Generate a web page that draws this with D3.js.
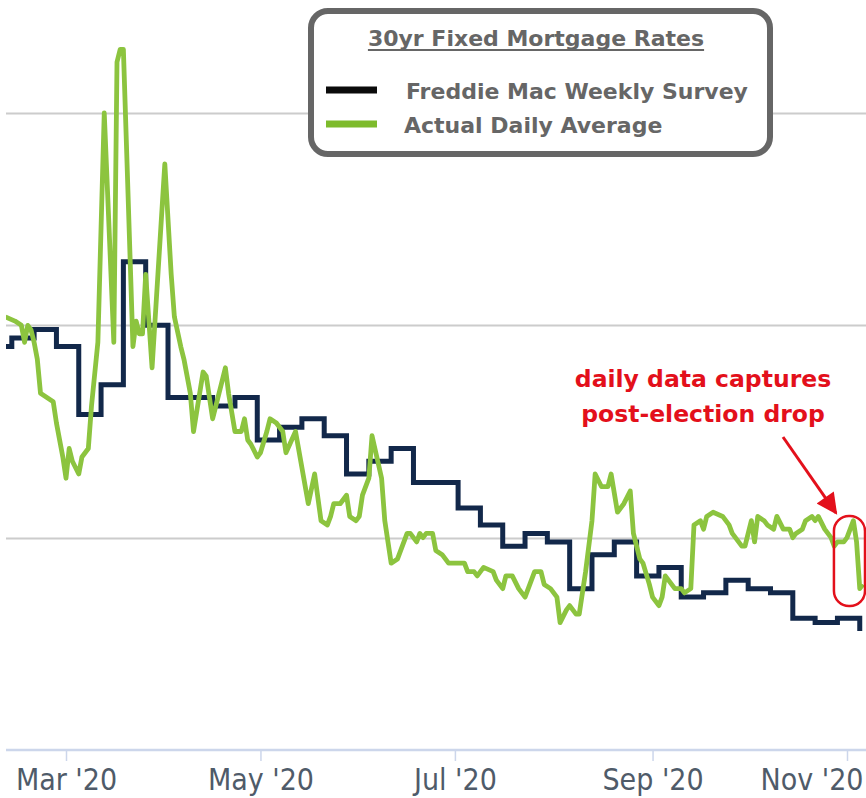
<!DOCTYPE html>
<html>
<head>
<meta charset="utf-8">
<script src="https://cdn.jsdelivr.net/npm/d3@7/dist/d3.min.js"></script>
<style>
  body { margin: 0; background: #fff; }
</style>
</head>
<body>
<script>
// Freddie Mac weekly survey (30yr fixed)
var weeklyDates = ["2020-02-06","2020-02-13","2020-02-20","2020-02-27","2020-03-05","2020-03-12",
  "2020-03-19","2020-03-26","2020-04-02","2020-04-09","2020-04-16","2020-04-23","2020-04-30",
  "2020-05-07","2020-05-14","2020-05-21","2020-05-28","2020-06-04","2020-06-11","2020-06-18",
  "2020-06-25","2020-07-02","2020-07-09","2020-07-16","2020-07-23","2020-07-30","2020-08-06",
  "2020-08-13","2020-08-20","2020-08-27","2020-09-03","2020-09-10","2020-09-17","2020-09-24",
  "2020-10-01","2020-10-08","2020-10-15","2020-10-22","2020-10-29","2020-11-05"];
var weeklyRates = [3.45,3.47,3.49,3.45,3.29,3.36,3.65,3.50,3.33,3.33,3.31,3.33,3.23,
  3.26,3.28,3.24,3.15,3.18,3.21,3.13,3.13,3.07,3.03,2.98,3.01,2.99,2.88,
  2.96,2.99,2.91,2.93,2.86,2.87,2.90,2.88,2.87,2.81,2.80,2.81,2.78];

// actual daily average
var dailyDates = ["2020-02-11","2020-02-14","2020-02-16","2020-02-17","2020-02-18","2020-02-19",
  "2020-02-20","2020-02-21","2020-02-22","2020-02-24","2020-02-26","2020-02-27","2020-02-29",
  "2020-03-01","2020-03-02","2020-03-03","2020-03-05","2020-03-06","2020-03-08","2020-03-09",
  "2020-03-11","2020-03-13","2020-03-16","2020-03-17","2020-03-18","2020-03-19","2020-03-22",
  "2020-03-23","2020-03-24","2020-03-25","2020-03-26","2020-03-28","2020-04-01","2020-04-03",
  "2020-04-04","2020-04-06","2020-04-07","2020-04-09","2020-04-10","2020-04-13","2020-04-14",
  "2020-04-16","2020-04-20","2020-04-21","2020-04-23","2020-04-25","2020-04-26","2020-04-27",
  "2020-04-28","2020-04-30","2020-05-01","2020-05-03","2020-05-04","2020-05-06","2020-05-08",
  "2020-05-09","2020-05-12","2020-05-16","2020-05-18","2020-05-20","2020-05-22","2020-05-23",
  "2020-05-24","2020-05-26","2020-05-28","2020-05-29","2020-05-31","2020-06-01","2020-06-02",
  "2020-06-04","2020-06-05","2020-06-08","2020-06-09","2020-06-11","2020-06-13","2020-06-14",
  "2020-06-16","2020-06-17","2020-06-19","2020-06-20","2020-06-21","2020-06-22","2020-06-24",
  "2020-06-25","2020-06-27","2020-06-29","2020-06-30","2020-07-04","2020-07-05","2020-07-07",
  "2020-07-08","2020-07-10","2020-07-13","2020-07-14","2020-07-16","2020-07-17","2020-07-19",
  "2020-07-21","2020-07-23","2020-07-25","2020-07-26","2020-07-28","2020-07-29","2020-07-31",
  "2020-08-02","2020-08-03","2020-08-05","2020-08-06","2020-08-08","2020-08-09","2020-08-11",
  "2020-08-13","2020-08-14","2020-08-16","2020-08-18","2020-08-19","2020-08-21","2020-08-22",
  "2020-08-23","2020-08-25","2020-08-26","2020-08-28","2020-08-29","2020-08-31","2020-09-01",
  "2020-09-03","2020-09-04","2020-09-05","2020-09-07","2020-09-08","2020-09-10","2020-09-11",
  "2020-09-13","2020-09-14","2020-09-16","2020-09-17","2020-09-18","2020-09-20","2020-09-23",
  "2020-09-25","2020-09-26","2020-09-29","2020-09-30","2020-10-02","2020-10-03","2020-10-04",
  "2020-10-06","2020-10-07","2020-10-09","2020-10-10","2020-10-12","2020-10-14","2020-10-15",
  "2020-10-16","2020-10-18","2020-10-19","2020-10-21","2020-10-22","2020-10-23","2020-10-25",
  "2020-10-27","2020-10-28","2020-10-29","2020-10-31","2020-11-01","2020-11-03","2020-11-04",
  "2020-11-05","2020-11-06"];
var dailyRates = [3.52,3.51,3.50,3.46,3.50,3.49,
  3.46,3.42,3.34,3.33,3.32,3.27,3.19,
  3.14,3.21,3.18,3.15,3.19,3.21,3.31,
  3.46,4.00,3.46,4.12,4.15,4.15,3.45,
  3.51,3.48,3.48,3.62,3.40,3.88,3.62,
  3.52,3.45,3.42,3.34,3.25,3.39,3.38,
  3.28,3.40,3.34,3.25,3.25,3.28,3.23,
  3.22,3.19,3.20,3.25,3.28,3.27,3.25,
  3.20,3.25,3.08,3.15,3.04,3.03,3.05,
  3.08,3.08,3.10,3.05,3.04,3.05,3.10,
  3.14,3.24,3.14,3.04,2.94,2.95,2.97,
  3.01,3.01,2.99,3.01,3.00,3.01,3.01,
  2.97,2.96,2.94,2.94,2.94,2.92,2.92,
  2.91,2.93,2.92,2.90,2.88,2.91,2.91,
  2.88,2.86,2.90,2.92,2.92,2.89,2.88,
  2.86,2.80,2.83,2.84,2.82,2.82,2.92,
  3.04,3.15,3.12,3.12,3.15,3.06,3.07,
  3.08,3.11,3.01,2.95,2.94,2.89,2.86,
  2.84,2.86,2.91,2.89,2.88,2.88,2.87,
  2.88,3.03,3.04,3.02,3.05,3.06,3.05,
  3.03,3.01,2.98,2.98,3.04,2.99,3.05,
  3.04,3.03,3.02,3.05,3.02,3.02,3.00,
  3.01,3.02,3.04,3.05,3.04,3.05,3.02,
  3.00,2.98,2.99,2.99,3.00,3.04,2.99,
  2.88,2.89];

var gridRates = [4.0, 3.5, 3.0];
var tickDates = ["2020-03-01","2020-05-01","2020-07-01","2020-09-01","2020-11-01"];
var legendTitle = "30yr Fixed Mortgage Rates";
var legendLabels = ["Freddie Mac Weekly Survey", "Actual Daily Average"];
var noteLines = ["daily data captures", "post-election drop"];

var width = 866, height = 798,
    plotLeft = 6, plotRight = 866, plotBottom = 750;

var navy = "#12284a", green = "#8cc43f", red = "#e3101b", gray = "#666666";

var parse = d3.timeParse("%Y-%m-%d");

var x = d3.scaleTime()
    .domain([parse("2020-03-01"), parse("2020-11-01")])
    .range([66, 847]);
var y = d3.scaleLinear()
    .domain([2.5, 4.0])
    .range([plotBottom, 113]);

var weekly = weeklyDates.map(function(d, i) { return {date: parse(d), rate: weeklyRates[i]}; });
var daily = dailyDates.map(function(d, i) { return {date: parse(d), rate: dailyRates[i]}; });

var svg = d3.select("body").append("svg")
    .attr("width", width)
    .attr("height", height)
    .style("font-family", "'DejaVu Sans', Verdana, sans-serif");

svg.append("defs").append("clipPath").attr("id", "plot")
  .append("rect")
    .attr("x", plotLeft).attr("y", 0)
    .attr("width", plotRight - plotLeft).attr("height", plotBottom);

// horizontal grid lines
svg.append("g").selectAll("line")
    .data(gridRates)
  .enter().append("line")
    .attr("x1", plotLeft).attr("x2", plotRight)
    .attr("y1", function(d) { return Math.round(y(d)) + 0.5; })
    .attr("y2", function(d) { return Math.round(y(d)) + 0.5; })
    .attr("stroke", "#cccccc")
    .attr("stroke-width", 2);

// x axis
var axis = d3.axisBottom(x)
    .tickValues(tickDates.map(parse))
    .tickFormat(d3.timeFormat("%b '%y"))
    .tickSize(11)
    .tickSizeOuter(0);

var gx = svg.append("g")
    .attr("transform", "translate(0," + plotBottom + ")")
    .call(axis);
gx.select(".domain").remove();
gx.selectAll(".tick line").attr("stroke", "#ccd6eb").attr("stroke-width", 1.5);
gx.append("line")
    .attr("x1", plotLeft).attr("x2", plotRight)
    .attr("stroke", "#ccd6eb").attr("stroke-width", 2.5);
gx.selectAll(".tick text")
    .attr("y", 40).attr("dy", 0)
    .attr("fill", "#4f5b69")
    .attr("font-size", 30)
    .style("font-family", "'Liberation Sans Narrow', 'DejaVu Sans Condensed', 'Roboto Condensed', sans-serif");
// keep the last label inside the picture
gx.selectAll(".tick text").each(function() {
  var t = d3.select(this), w = this.getComputedTextLength();
  var cx = x(this.__data__);
  if (cx + w / 2 > width - 3) t.attr("x", (width - 3) - w / 2 - cx);
});

// series
var lines = svg.append("g").attr("clip-path", "url(#plot)");

var stepLine = d3.line()
    .x(function(d) { return x(d.date); })
    .y(function(d) { return y(d.rate); })
    .curve(d3.curveStepAfter);

var dailyLine = d3.line()
    .x(function(d) { return x(d.date); })
    .y(function(d) { return y(d.rate); });

lines.append("path")
    .datum(weekly)
    .attr("d", stepLine)
    .attr("fill", "none")
    .attr("stroke", navy)
    .attr("stroke-width", 5);

lines.append("path")
    .datum(daily)
    .attr("d", dailyLine)
    .attr("fill", "none")
    .attr("stroke", green)
    .attr("stroke-width", 4.8)
    .attr("stroke-linejoin", "round");

// legend box
var legend = svg.append("g");
legend.append("rect")
    .attr("x", 311).attr("y", 11)
    .attr("width", 459).attr("height", 143)
    .attr("rx", 17)
    .attr("fill", "#fff")
    .attr("stroke", gray)
    .attr("stroke-width", 6);

var title = legend.append("text")
    .attr("x", 536).attr("y", 46)
    .attr("text-anchor", "middle")
    .attr("font-weight", "bold")
    .attr("fill", gray)
    .attr("font-size", 22)
    .text(legendTitle);
var tw = title.node().getComputedTextLength();
legend.append("line")
    .attr("x1", 536 - tw / 2).attr("x2", 536 + tw / 2)
    .attr("y1", 50).attr("y2", 50)
    .attr("stroke", gray).attr("stroke-width", 2);

var items = legend.selectAll(".item")
    .data(legendLabels)
  .enter().append("g")
    .attr("class", "item")
    .attr("transform", function(d, i) { return "translate(0," + (i * 34) + ")"; });
items.append("line")
    .attr("x1", 326).attr("x2", 377)
    .attr("y1", 90).attr("y2", 90)
    .attr("stroke", function(d, i) { return i == 0 ? "#0b0b0b" : "#7dbb2c"; })
    .attr("stroke-width", 7);
items.append("text")
    .attr("x", function(d, i) { return i == 0 ? 406 : 404; })
    .attr("y", 99)
    .attr("font-weight", "bold")
    .attr("font-size", 22)
    .attr("fill", gray)
    .text(function(d) { return d; });

// annotation
var note = svg.append("g");
note.selectAll("text")
    .data(noteLines)
  .enter().append("text")
    .attr("x", 703)
    .attr("y", function(d, i) { return 387 + i * 35; })
    .attr("text-anchor", "middle")
    .attr("font-weight", "bold")
    .attr("font-size", 23.5)
    .attr("fill", red)
    .text(function(d) { return d; });

svg.select("defs").append("marker")
    .attr("id", "head")
    .attr("viewBox", "0 0 10 10")
    .attr("refX", 9).attr("refY", 5)
    .attr("markerWidth", 8).attr("markerHeight", 7)
    .attr("markerUnits", "strokeWidth")
    .attr("orient", "auto")
  .append("path")
    .attr("d", "M0,0L10,5L0,10z")
    .attr("fill", red);

note.append("line")
    .attr("x1", 783).attr("y1", 437)
    .attr("x2", 836).attr("y2", 513)
    .attr("stroke", red)
    .attr("stroke-width", 3)
    .attr("marker-end", "url(#head)");

// circle the post-election drop
var last = daily.slice(-7);
var px0 = x(last[0].date) - 3.5, px1 = 865;
note.append("rect")
    .attr("x", px0).attr("y", 516)
    .attr("width", px1 - px0).attr("height", 90)
    .attr("rx", 15)
    .attr("fill", "none")
    .attr("stroke", red)
    .attr("stroke-width", 2.5);
</script>
</body>
</html>
